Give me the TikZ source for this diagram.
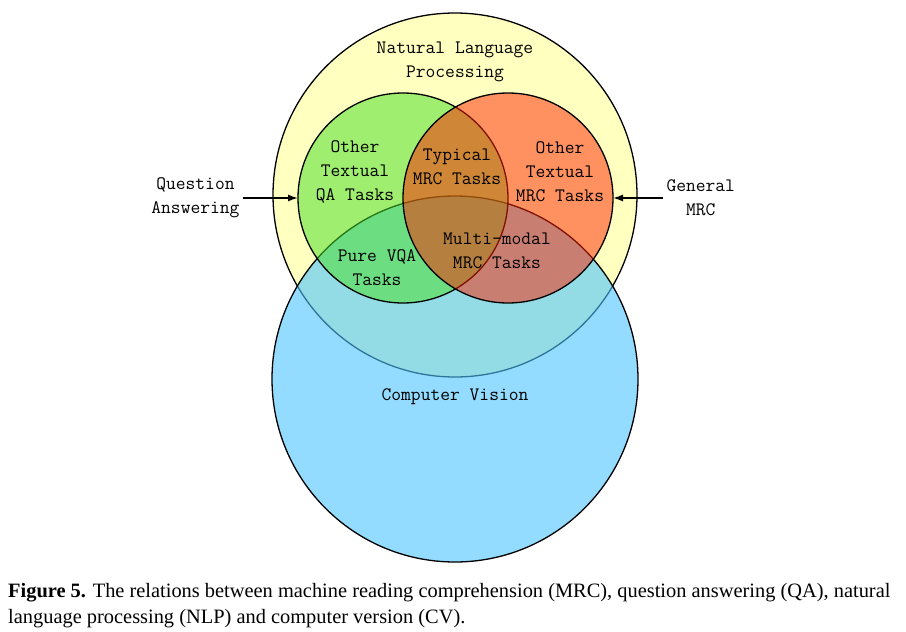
\documentclass[tikz,border=0pt]{standalone}
\usepackage{fontspec}
\usepackage{xcolor}
\usetikzlibrary{arrows.meta, positioning}
\setmainfont{Liberation Serif}
\definecolor{nlpYellow}{HTML}{FFFFC0}
\definecolor{visionBlue}{HTML}{4BC3FF}
\definecolor{qaGreen}{HTML}{49DF26}
\definecolor{mrcOrange}{HTML}{FF2200}

\begin{document}
\begin{tikzpicture}[
    x=1pt, y=-1pt,
    set/.style={circle, draw=black, line width=1.3pt, inner sep=0pt, outer sep=0pt, minimum size=#1},
    tag/.style={font=\ttfamily\fontsize{19}{24}\selectfont, align=center},
    arrow/.style={-{Latex[length=10pt, width=7pt]}, line width=1.4pt}
]
\useasboundingbox (0,0) rectangle (906,632);

% NLP
\node[set=364pt, fill=nlpYellow] (nlp) at (455,195) {};

% Computer vision
\node[set=366pt, fill=visionBlue, fill opacity=0.6] (vision) at (455,379) {};

% QA and MRC
\node[set=210pt, fill=qaGreen, fill opacity=0.52] (qa) at (403,198) {};
\node[set=210pt, fill=mrcOrange, fill opacity=0.5] (mrc) at (508,198) {};

% Labels
\node[tag] (nlptext) at (455,62) {Natural Language\\Processing};
\node[tag] (otherqa) at (355,172) {Other\\Textual\\QA Tasks};
\node[tag] (typical) at (457,167) {Typical\\MRC Tasks};
\node[tag] (othermrc) at (560,172) {Other\\Textual\\MRC Tasks};
\node[tag] (purevqa) at (377,268) {Pure VQA\\Tasks};
\node[tag] (multimodal) at (497,251) {Multi-modal\\MRC Tasks};
\node[tag] (visiontext) at (455,397) {Computer Vision};

% Outside
\node[tag, left=55pt of qa] (qatext) {Question\\Answering};
\node[tag, right=50pt of mrc] (generaltext) {General\\MRC};

% Arrows
\draw[arrow] (qatext) -- (qa);
\draw[arrow] (generaltext) -- (mrc);

% Caption
\node[anchor=north west, align=left, font=\fontsize{20.4}{26}\selectfont, inner sep=0pt] (caption) at (8,583)
  {\textbf{Figure 5.} The relations between machine reading comprehension (MRC), question answering (QA), natural\\
   language processing (NLP) and computer version (CV).};

\end{tikzpicture}
\end{document}
